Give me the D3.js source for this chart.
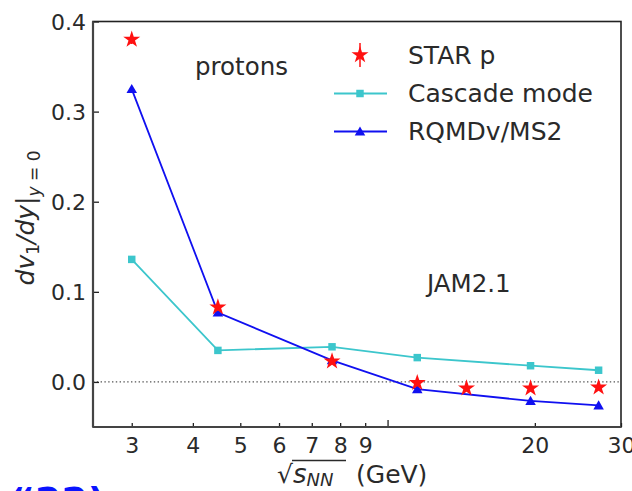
<!DOCTYPE html>
<html>
<head>
<meta charset="utf-8">
<script src="https://cdn.jsdelivr.net/npm/d3@7"></script>
<style>
  html, body { margin: 0; padding: 0; background: #fff; }
  svg { display: block; font-family: "DejaVu Sans", sans-serif; }
</style>
</head>
<body>
<svg id="chart" width="632" height="491"></svg>
<script>
// Beam energies (GeV) and directed-flow slopes for protons
const starEnergies = [3, 4.5, 7.7, 11.5, 14.5, 19.6, 27];
const starValues   = [0.380, 0.083, 0.023, -0.001, -0.007, -0.007, -0.006];
const starErrors   = [0.005, 0.004, 0.003, 0.003, 0.003, 0.003, 0.003];

const modelEnergies = [3, 4.5, 7.7, 11.5, 19.6, 27];
const cascadeValues = [0.136, 0.035, 0.039, 0.027, 0.018, 0.013];
const rqmdValues    = [0.325, 0.077, 0.024, -0.008, -0.021, -0.026];

const xTickLabels = [3, 4, 5, 6, 7, 8, 9, 20, 30];
const xMajorTicks = [10];
const yTicks = [0.0, 0.1, 0.2, 0.3, 0.4];

const svg = d3.select("#chart");
const plotLeft = 93, plotRight = 621, plotTop = 21.5, plotBottom = 427;

const x = d3.scaleLog().domain([2.5, 30]).range([plotLeft, plotRight]);
const y = d3.scaleLinear().domain([-0.05, 0.4]).range([plotBottom, plotTop]);

const textColor = "#2a2a2a";
const cyan = "#3cc6cc";
const blue = "#1010f0";
const red = "#ff1010";

// zero reference line
svg.append("line")
  .attr("x1", plotLeft).attr("x2", plotRight)
  .attr("y1", y(0)).attr("y2", y(0))
  .attr("stroke", "#555").attr("stroke-width", 1.3)
  .attr("stroke-dasharray", "1.4,2.4");

// Axes with inward ticks
const xAxisMinor = d3.axisBottom(x).tickValues(xTickLabels)
  .tickFormat(d3.format("d")).tickSizeInner(-4).tickSizeOuter(0).tickPadding(10);
const gx = svg.append("g").attr("transform", `translate(0,${plotBottom})`).call(xAxisMinor);
const xAxisMajor = d3.axisBottom(x).tickValues(xMajorTicks)
  .tickFormat("").tickSizeInner(-7).tickSizeOuter(0);
const gx2 = svg.append("g").attr("transform", `translate(0,${plotBottom})`).call(xAxisMajor);

const yAxis = d3.axisLeft(y).tickValues(yTicks).tickFormat(d3.format(".1f"))
  .tickSizeInner(-6).tickSizeOuter(0).tickPadding(7);
const gy = svg.append("g").attr("transform", `translate(${plotLeft},0)`).call(yAxis);

[gx, gx2, gy].forEach(g => {
  g.select(".domain").remove();
  g.selectAll(".tick line").attr("stroke", "#222").attr("stroke-width", 1.3);
  g.selectAll(".tick text").attr("fill", textColor)
    .style("font-size", "22px").style("font-family", "DejaVu Sans, sans-serif");
});
gy.selectAll(".tick text").attr("dy", "0.36em");

// frame
svg.append("rect")
  .attr("x", plotLeft).attr("y", plotTop)
  .attr("width", plotRight - plotLeft).attr("height", plotBottom - plotTop)
  .attr("fill", "none").attr("stroke", "#222").attr("stroke-width", 1.6);
svg.append("line").attr("x1", plotLeft).attr("x2", plotLeft).attr("y1", plotTop).attr("y2", plotBottom)
  .attr("stroke", "#444").attr("stroke-width", 2.2);
svg.append("line").attr("x1", plotLeft).attr("x2", plotRight).attr("y1", plotBottom).attr("y2", plotBottom)
  .attr("stroke", "#444").attr("stroke-width", 2.2);

// model curves
const line = d3.line().x(d => x(d[0])).y(d => y(d[1]));
const cascadeData = modelEnergies.map((e, i) => [e, cascadeValues[i]]);
const rqmdData = modelEnergies.map((e, i) => [e, rqmdValues[i]]);

svg.append("path").datum(cascadeData).attr("d", line)
  .attr("fill", "none").attr("stroke", cyan).attr("stroke-width", 1.8);
svg.selectAll(".sq").data(cascadeData).join("path")
  .attr("transform", d => `translate(${x(d[0])},${y(d[1])})`)
  .attr("d", d3.symbol(d3.symbolSquare, 56)).attr("fill", cyan);

svg.append("path").datum(rqmdData).attr("d", line)
  .attr("fill", "none").attr("stroke", blue).attr("stroke-width", 1.8);
svg.selectAll(".tri").data(rqmdData).join("path")
  .attr("transform", d => `translate(${x(d[0])},${y(d[1]) + 1})`)
  .attr("d", d3.symbol(d3.symbolTriangle, 48)).attr("fill", blue);

// STAR measurements
const starData = starEnergies.map((e, i) => [e, starValues[i], starErrors[i]]);
svg.selectAll(".err").data(starData).join("line")
  .attr("x1", d => x(d[0])).attr("x2", d => x(d[0]))
  .attr("y1", d => y(d[1] - d[2])).attr("y2", d => y(d[1] + d[2]))
  .attr("stroke", red).attr("stroke-width", 1.5);
svg.selectAll(".star").data(starData).join("path")
  .attr("transform", d => `translate(${x(d[0])},${y(d[1])})`)
  .attr("d", d3.symbol(d3.symbolStar, 90)).attr("fill", red);

// legend
const legend = svg.append("g");
const lx = 360, ly = [55, 93.5, 131.5];
legend.append("line").attr("x1", lx).attr("x2", lx).attr("y1", ly[0] - 12).attr("y2", ly[0] + 12)
  .attr("stroke", red).attr("stroke-width", 1.5);
legend.append("path").attr("transform", `translate(${lx},${ly[0]})`)
  .attr("d", d3.symbol(d3.symbolStar, 90)).attr("fill", red);
legend.append("line").attr("x1", 334).attr("x2", 387).attr("y1", ly[1]).attr("y2", ly[1])
  .attr("stroke", cyan).attr("stroke-width", 1.8);
legend.append("path").attr("transform", `translate(${lx},${ly[1]})`)
  .attr("d", d3.symbol(d3.symbolSquare, 56)).attr("fill", cyan);
legend.append("line").attr("x1", 334).attr("x2", 387).attr("y1", ly[2]).attr("y2", ly[2])
  .attr("stroke", blue).attr("stroke-width", 1.8);
legend.append("path").attr("transform", `translate(${lx},${ly[2] + 1})`)
  .attr("d", d3.symbol(d3.symbolTriangle, 48)).attr("fill", blue);
const legendLabels = ["STAR p", "Cascade mode", "RQMDv/MS2"];
legend.selectAll("text").data(legendLabels).join("text")
  .attr("x", 408).attr("y", (d, i) => ly[i] + 8.5)
  .attr("fill", textColor).style("font-size", "25px").text(d => d);

// annotations
svg.append("text").attr("x", 195).attr("y", 75).attr("fill", textColor)
  .style("font-size", "24.5px").text("protons");
svg.append("text").attr("x", 427).attr("y", 292).attr("fill", textColor)
  .style("font-size", "24.5px").text("JAM2.1");

// y-axis title: dv1/dy|_{y=0}
const yt = svg.append("text")
  .attr("transform", "translate(34,218) rotate(-90)")
  .attr("text-anchor", "middle").attr("fill", textColor).style("font-size", "25px");
yt.append("tspan").style("font-style", "italic").text("dv");
yt.append("tspan").attr("dy", 5).style("font-size", "17px").text("1");
yt.append("tspan").attr("dy", -5).style("font-style", "italic").text("/dy");
yt.append("tspan").attr("dy", 0).text("|");
yt.append("tspan").attr("dy", 6).style("font-size", "17px").style("font-style", "italic").text("y");
yt.append("tspan").style("font-size", "17px").text(" = 0");

// x-axis title: sqrt(s_NN) (GeV)
const xt = svg.append("g").attr("fill", textColor);
xt.append("text").attr("x", 277).attr("y", 483).style("font-size", "25px").text("\u221A");
const sn = xt.append("text").attr("x", 293).attr("y", 483).style("font-size", "26px");
sn.append("tspan").style("font-style", "italic").text("s");
sn.append("tspan").attr("dy", 3).style("font-size", "18px").style("font-style", "italic").text("NN");
xt.append("text").attr("x", 356).attr("y", 483).style("font-size", "25px").text("(GeV)");
svg.append("line").attr("x1", 292).attr("x2", 346).attr("y1", 460.5).attr("y2", 460.5)
  .attr("stroke", textColor).attr("stroke-width", 1.3);

// fragment of blue caption below the chart
svg.append("text").attr("x", 10).attr("y", 514)
  .attr("fill", "#0a14ff").style("font-size", "38px").style("font-weight", "bold")
  .text("\u201C22)");
</script>
</body>
</html>
